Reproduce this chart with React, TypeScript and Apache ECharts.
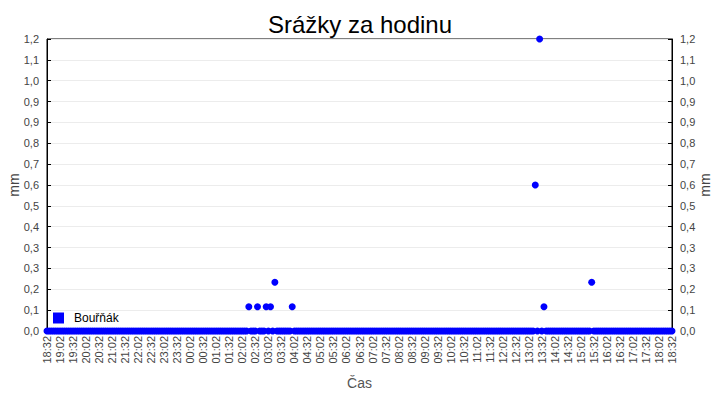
import { useEffect, useRef } from "react"
import * as echarts from "echarts"

// 5-minute slots, 18:32 -> 18:32 next day
const times = `
18:32 18:37 18:42 18:47 18:52 18:57
19:02 19:07 19:12 19:17 19:22 19:27 19:32 19:37 19:42 19:47 19:52 19:57
20:02 20:07 20:12 20:17 20:22 20:27 20:32 20:37 20:42 20:47 20:52 20:57
21:02 21:07 21:12 21:17 21:22 21:27 21:32 21:37 21:42 21:47 21:52 21:57
22:02 22:07 22:12 22:17 22:22 22:27 22:32 22:37 22:42 22:47 22:52 22:57
23:02 23:07 23:12 23:17 23:22 23:27 23:32 23:37 23:42 23:47 23:52 23:57
00:02 00:07 00:12 00:17 00:22 00:27 00:32 00:37 00:42 00:47 00:52 00:57
01:02 01:07 01:12 01:17 01:22 01:27 01:32 01:37 01:42 01:47 01:52 01:57
02:02 02:07 02:12 02:17 02:22 02:27 02:32 02:37 02:42 02:47 02:52 02:57
03:02 03:07 03:12 03:17 03:22 03:27 03:32 03:37 03:42 03:47 03:52 03:57
04:02 04:07 04:12 04:17 04:22 04:27 04:32 04:37 04:42 04:47 04:52 04:57
05:02 05:07 05:12 05:17 05:22 05:27 05:32 05:37 05:42 05:47 05:52 05:57
06:02 06:07 06:12 06:17 06:22 06:27 06:32 06:37 06:42 06:47 06:52 06:57
07:02 07:07 07:12 07:17 07:22 07:27 07:32 07:37 07:42 07:47 07:52 07:57
08:02 08:07 08:12 08:17 08:22 08:27 08:32 08:37 08:42 08:47 08:52 08:57
09:02 09:07 09:12 09:17 09:22 09:27 09:32 09:37 09:42 09:47 09:52 09:57
10:02 10:07 10:12 10:17 10:22 10:27 10:32 10:37 10:42 10:47 10:52 10:57
11:02 11:07 11:12 11:17 11:22 11:27 11:32 11:37 11:42 11:47 11:52 11:57
12:02 12:07 12:12 12:17 12:22 12:27 12:32 12:37 12:42 12:47 12:52 12:57
13:02 13:07 13:12 13:17 13:22 13:27 13:32 13:37 13:42 13:47 13:52 13:57
14:02 14:07 14:12 14:17 14:22 14:27 14:32 14:37 14:42 14:47 14:52 14:57
15:02 15:07 15:12 15:17 15:22 15:27 15:32 15:37 15:42 15:47 15:52 15:57
16:02 16:07 16:12 16:17 16:22 16:27 16:32 16:37 16:42 16:47 16:52 16:57
17:02 17:07 17:12 17:17 17:22 17:27 17:32 17:37 17:42 17:47 17:52 17:57
18:02 18:07 18:12 18:17 18:22 18:27 18:32
`.trim().split(/\s+/)

// srážky (mm) za hodinu, Bouřňák — one row per hour, from 18:32
const rain = [
  0, 0, 0, 0, 0, 0, 0, 0, 0, 0, 0, 0,
  0, 0, 0, 0, 0, 0, 0, 0, 0, 0, 0, 0,
  0, 0, 0, 0, 0, 0, 0, 0, 0, 0, 0, 0,
  0, 0, 0, 0, 0, 0, 0, 0, 0, 0, 0, 0,
  0, 0, 0, 0, 0, 0, 0, 0, 0, 0, 0, 0,
  0, 0, 0, 0, 0, 0, 0, 0, 0, 0, 0, 0,
  0, 0, 0, 0, 0, 0, 0, 0, 0, 0, 0, 0,
  0, 0, 0, 0, 0, 0, 0, 0, 0, 0.1, 0, 0,
  0, 0.1, 0, 0, 0, 0.1, 0, 0.1, 0, 0.2, 0, 0,
  0, 0, 0, 0, 0, 0.1, 0, 0, 0, 0, 0, 0,
  0, 0, 0, 0, 0, 0, 0, 0, 0, 0, 0, 0,
  0, 0, 0, 0, 0, 0, 0, 0, 0, 0, 0, 0,
  0, 0, 0, 0, 0, 0, 0, 0, 0, 0, 0, 0,
  0, 0, 0, 0, 0, 0, 0, 0, 0, 0, 0, 0,
  0, 0, 0, 0, 0, 0, 0, 0, 0, 0, 0, 0,
  0, 0, 0, 0, 0, 0, 0, 0, 0, 0, 0, 0,
  0, 0, 0, 0, 0, 0, 0, 0, 0, 0, 0, 0,
  0, 0, 0, 0, 0, 0, 0, 0, 0, 0, 0, 0,
  0, 0, 0, 0, 0, 0, 0, 0, 0, 0.6, 0, 1.2,
  0, 0.1, 0, 0, 0, 0, 0, 0, 0, 0, 0, 0,
  0, 0, 0, 0, 0, 0, 0, 0, 0, 0, 0, 0.2,
  0, 0, 0, 0, 0, 0, 0, 0, 0, 0, 0, 0,
  0, 0, 0, 0, 0, 0, 0, 0, 0, 0, 0, 0,
  0, 0, 0, 0, 0, 0, 0, 0, 0, 0, 0, 0,
  0,
]

const seriesName = "Bouřňák"
const yMax = 1.2
const ySteps = 14

const fmt = (v: number) => v.toFixed(1).replace(".", ",")

export default function App() {
  const chartRef = useRef<HTMLDivElement>(null)

  useEffect(() => {
    if (!chartRef.current) return
    const chart = echarts.init(chartRef.current, null, { renderer: "svg" })

    const yAxisBase = {
      type: "value",
      min: 0,
      max: yMax,
      interval: yMax / ySteps,
      name: "mm",
      nameLocation: "middle",
      nameGap: 26,
      nameMoveOverlap: false,
      nameTextStyle: { fontSize: 14, color: "#444" },
      axisLine: { show: true, lineStyle: { color: "#000" } },
      axisTick: { show: true, inside: true, length: 4, lineStyle: { color: "#000" } },
      axisLabel: { fontSize: 11, color: "#444", formatter: fmt },
    }

    chart.setOption({
      animation: false,
      textStyle: { fontFamily: "'Liberation Sans', Arial, sans-serif" },
      title: {
        text: "Srážky za hodinu",
        left: "center",
        top: 7,
        textStyle: { fontSize: 24, fontWeight: "normal", color: "#000" },
      },
      grid: {
        left: 47,
        right: 48,
        top: 39,
        bottom: 69,
        outerBoundsMode: "none",
        containLabel: false,
        show: true,
        borderColor: "#000",
        borderWidth: 1,
      },
      legend: {
        left: 53,
        top: 312,
        icon: "rect",
        itemWidth: 11,
        itemHeight: 11,
        itemGap: 0,
        padding: 0,
        textStyle: { fontSize: 12, color: "#000", padding: [0, 0, 0, 5] },
        data: [seriesName],
      },
      xAxis: {
        type: "category",
        data: times,
        boundaryGap: false,
        name: "Čas",
        nameLocation: "middle",
        nameGap: 45,
        nameMoveOverlap: false,
        nameTextStyle: { fontSize: 14, color: "#555" },
        axisLine: { lineStyle: { color: "#000" } },
        axisTick: { inside: true, length: 3, interval: 5, lineStyle: { color: "#000" } },
        axisLabel: { interval: 5, rotate: 90, fontSize: 11, color: "#444", margin: 5 },
        splitLine: { show: false },
      },
      yAxis: [
        {
          ...yAxisBase,
          position: "left",
          splitLine: { show: true, lineStyle: { color: "#ececec" } },
        },
        {
          ...yAxisBase,
          position: "right",
          splitLine: { show: false },
        },
      ],
      series: [
        {
          name: seriesName,
          type: "scatter",
          data: rain,
          symbol: "circle",
          symbolSize: 7,
          itemStyle: { color: "#0000ff", opacity: 1 },
          clip: false,
        },
      ],
    })

    return () => {
      chart.dispose()
    }
  }, [])

  return (
    <div
      ref={chartRef}
      style={{ position: "absolute", left: 0, top: 0, width: 720, height: 400, background: "#fff" }}
    />
  )
}
